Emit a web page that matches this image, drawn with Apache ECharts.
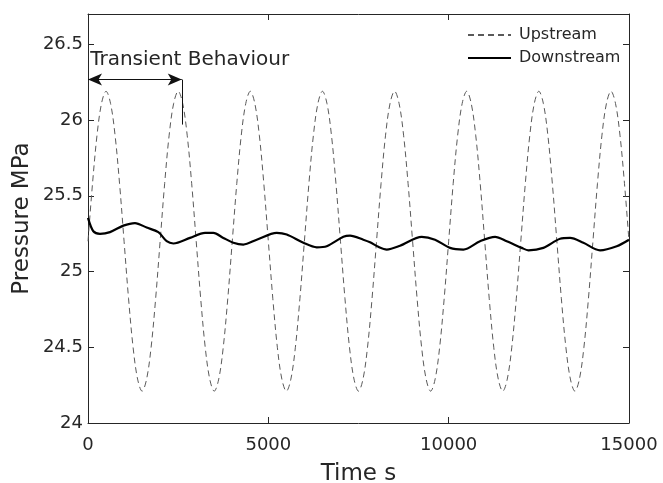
<!DOCTYPE html>
<html>
<head>
<meta charset="utf-8">
<script src="https://cdn.jsdelivr.net/npm/echarts@6/dist/echarts.min.js"></script>
<style>
	html, body { margin: 0; padding: 0; background: #fff; }
	#chart { width: 663px; height: 483px; }
</style>
</head>
<body>
<div id="chart"></div>
<script>
// upstream pressure, sampled every 125 s from t = 0
var upStep = 125;
var upstream = [
	25.2, 25.58, 25.9, 26.11, 26.19, 26.11, 25.9, 25.58, 25.2, 24.82, 24.5, 24.29, 24.21, 24.29, 24.5, 24.82,
	25.2, 25.58, 25.9, 26.11, 26.19, 26.11, 25.9, 25.58, 25.2, 24.82, 24.5, 24.29, 24.21, 24.29, 24.5, 24.82,
	25.2, 25.58, 25.9, 26.11, 26.19, 26.11, 25.9, 25.58, 25.2, 24.82, 24.5, 24.29, 24.21, 24.29, 24.5, 24.82,
	25.2, 25.58, 25.9, 26.11, 26.19, 26.11, 25.9, 25.58, 25.2, 24.82, 24.5, 24.29, 24.21, 24.29, 24.5, 24.82,
	25.2, 25.58, 25.9, 26.11, 26.19, 26.11, 25.9, 25.58, 25.2, 24.82, 24.5, 24.29, 24.21, 24.29, 24.5, 24.82,
	25.2, 25.58, 25.9, 26.11, 26.19, 26.11, 25.9, 25.58, 25.2, 24.82, 24.5, 24.29, 24.21, 24.29, 24.5, 24.82,
	25.2, 25.58, 25.9, 26.11, 26.19, 26.11, 25.9, 25.58, 25.2, 24.82, 24.5, 24.29, 24.21, 24.29, 24.5, 24.82,
	25.2, 25.58, 25.9, 26.11, 26.19, 26.11, 25.9, 25.58, 25.2
];

// downstream pressure, read at irregular times
var downTime = [0, 148, 333, 610, 980, 1303, 1627, 1950, 2182, 2366, 2829, 3245, 3475, 3752, 4030, 4307,
	4677, 5232, 5510, 5971, 6342, 6619, 7080, 7265, 7634, 7820, 8050, 8283, 8652, 9253, 9622, 10038,
	10407, 10870, 11286, 11610, 12026, 12211, 12626, 13088, 13366, 13735, 14197, 14660, 15000];
var downstream = [25.354, 25.266, 25.249, 25.26, 25.303, 25.32, 25.29, 25.26, 25.2, 25.185, 25.222, 25.255, 25.255, 25.222, 25.19, 25.178,
	25.21, 25.255, 25.244, 25.19, 25.16, 25.167, 25.229, 25.237, 25.21, 25.193, 25.163, 25.145, 25.17, 25.229, 25.21, 25.156,
	25.145, 25.2, 25.229, 25.2, 25.156, 25.14, 25.156, 25.216, 25.222, 25.19, 25.14, 25.167, 25.21];

var seriesNames = ['Upstream', 'Downstream'];
var xTicks = [0, 15000, 5000];      // min, max, interval
var yTicks = [24, 26.7, 0.5];
var noteText = 'Transient Behaviour';
var noteArrow = [[0, 26.267], [2600, 26.267]];
var noteBar = [[2600, 26.267], [2600, 25.97]];
var notePos = [60, 26.4];

var upData = upstream.map(function(v, i) { return [i * upStep, v]; });
var downData = downstream.map(function(v, i) { return [downTime[i], v]; });

var FONT = 'DejaVu Sans';
var INK = '#262626';

function makeAxis(isX, pos, labels) {
	var t = isX ? xTicks : yTicks;
	return {
		type: 'value',
		position: pos,
		min: t[0],
		max: t[1],
		interval: t[2],
		splitLine: { show: false },
		axisLine: { show: true, onZero: false, lineStyle: { color: INK, width: 1 } },
		axisTick: { show: true, inside: true, length: 6, lineStyle: { color: INK } },
		axisLabel: {
			show: labels,
			showMaxLabel: isX,
			color: INK,
			fontFamily: FONT,
			fontSize: 18,
			margin: isX ? 13 : 5,
			formatter: function(v) { return String(v); }
		}
	};
}

var xBottom = makeAxis(true, 'bottom', true);
xBottom.name = 'Time s';
xBottom.nameLocation = 'middle';
xBottom.nameGap = 40;
xBottom.nameMoveOverlap = false;
xBottom.nameTextStyle = { color: INK, fontFamily: FONT, fontSize: 23 };
var yLeft = makeAxis(false, 'left', true);
yLeft.name = 'Pressure MPa';
yLeft.nameLocation = 'middle';
yLeft.nameGap = 54;
yLeft.nameMoveOverlap = false;
yLeft.nameTextStyle = { color: INK, fontFamily: FONT, fontSize: 23 };

var myChart = echarts.init(document.getElementById('chart'), null, { renderer: 'canvas' });
myChart.setOption({
	animation: false,
	backgroundColor: '#fff',
	grid: { left: 88, right: 34, top: 14, bottom: 60, containLabel: false, outerBoundsMode: 'none' },
	legend: {
		orient: 'vertical',
		left: 462,
		top: 22,
		itemWidth: 43,
		itemHeight: 10,
		itemGap: 7,
		data: seriesNames,
		itemStyle: { opacity: 0 },
		textStyle: { color: INK, fontFamily: FONT, fontSize: 16, padding: [0, 0, 0, 3] }
	},
	xAxis: [xBottom, makeAxis(true, 'top', false)],
	yAxis: [yLeft, makeAxis(false, 'right', false)],
	series: [
		{
			name: seriesNames[0],
			type: 'line',
			data: upData,
			smooth: 0.35,
			showSymbol: false,
			symbol: 'none',
			lineStyle: { color: '#5a5a5a', width: 1, type: [6, 4] },
			itemStyle: { color: '#5a5a5a' },
			z: 2
		},
		{
			name: seriesNames[1],
			type: 'line',
			data: downData,
			smooth: 0.3,
			showSymbol: false,
			symbol: 'none',
			lineStyle: { color: '#000', width: 2.2 },
			itemStyle: { color: '#000' },
			z: 3,
			markLine: {
				silent: true,
				animation: false,
				label: { show: false },
				lineStyle: { color: '#111', width: 1, type: 'solid' },
				data: [
					[{ coord: noteArrow[0], symbol: 'arrow', symbolSize: [9, 14] },
					 { coord: noteArrow[1], symbol: 'arrow', symbolSize: [9, 14] }],
					[{ coord: noteBar[0], symbol: 'none' }, { coord: noteBar[1], symbol: 'none' }]
				]
			},
			markPoint: {
				silent: true,
				symbol: 'circle',
				symbolSize: 0,
				data: [{ coord: notePos }],
				label: {
					show: true,
					position: 'right',
					distance: 0,
					formatter: noteText,
					color: INK,
					fontFamily: FONT,
					fontSize: 20
				}
			}
		}
	]
});
</script>
</body>
</html>
